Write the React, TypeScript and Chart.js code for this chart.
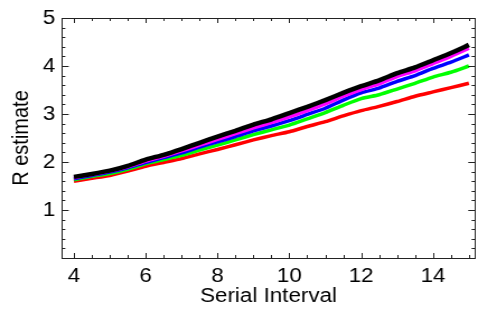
import React, { useEffect, useRef } from "react";
import { Chart, registerables } from "chart.js";

Chart.register(...registerables);

const serialInterval = [4, 4.5, 5, 5.5, 6, 6.5, 7, 7.5, 8, 8.5, 9, 9.5, 10, 10.5, 11, 11.5, 12, 12.5, 13, 13.5, 14, 14.5, 15];
const blackSeries = [1.69, 1.75, 1.82, 1.92, 2.05, 2.15, 2.27, 2.4, 2.53, 2.65, 2.78, 2.89, 3.02, 3.15, 3.29, 3.44, 3.58, 3.7, 3.85, 3.97, 4.12, 4.27, 4.44];
const magentaSeries = [1.67, 1.74, 1.81, 1.9, 2.02, 2.12, 2.23, 2.35, 2.47, 2.59, 2.71, 2.82, 2.94, 3.07, 3.21, 3.37, 3.51, 3.63, 3.78, 3.9, 4.05, 4.2, 4.37];
const blueSeries = [1.65, 1.72, 1.79, 1.88, 1.99, 2.09, 2.19, 2.31, 2.42, 2.53, 2.65, 2.75, 2.86, 2.99, 3.12, 3.29, 3.44, 3.54, 3.68, 3.8, 3.95, 4.08, 4.23];
const greenSeries = [1.63, 1.7, 1.76, 1.85, 1.96, 2.05, 2.14, 2.25, 2.35, 2.46, 2.57, 2.67, 2.77, 2.9, 3.03, 3.18, 3.32, 3.4, 3.52, 3.64, 3.77, 3.87, 4.0];
const redSeries = [1.6, 1.66, 1.72, 1.81, 1.91, 1.99, 2.07, 2.17, 2.26, 2.36, 2.46, 2.55, 2.63, 2.74, 2.84, 2.96, 3.07, 3.16, 3.26, 3.37, 3.46, 3.55, 3.64];

const xTickValues = [4, 6, 8, 10, 12, 14];
const yTickValues = [1, 2, 3, 4, 5];
const xMinorStep = 0.5;
const yMinorStep = 0.2;

const FONT = "'Liberation Sans', Arial, sans-serif";
const PAGE_W = 478;
const PAGE_H = 320;
const LOGICAL_W = 427;
const STRETCH = PAGE_W / LOGICAL_W;

const frameTicksPlugin = {
  id: "frameTicks",
  afterDraw(chart: any) {
    const { ctx, chartArea: a, scales } = chart;
    const xs = scales.x;
    const ys = scales.y;
    ctx.save();
    ctx.strokeStyle = "#222";
    ctx.lineWidth = 1;
    ctx.strokeRect(Math.round(a.left) + 0.5, Math.round(a.top) + 0.5, Math.round(a.right - a.left), Math.round(a.bottom - a.top));
    ctx.beginPath();
    for (let v = 4; v <= 15.001; v += xMinorStep) {
      const major = Math.abs(v / 2 - Math.round(v / 2)) < 1e-6;
      const len = major ? 5 : 3;
      const px = Math.round(xs.getPixelForValue(v)) + 0.5;
      ctx.moveTo(px, a.bottom);
      ctx.lineTo(px, a.bottom - len);
      ctx.moveTo(px, a.top);
      ctx.lineTo(px, a.top + len);
    }
    for (let i = 1; i < 25; i++) {
      const v = i * yMinorStep;
      const major = i % 5 === 0;
      const len = major ? 6 : 3;
      const py = Math.round(ys.getPixelForValue(v)) + 0.5;
      ctx.moveTo(a.left, py);
      ctx.lineTo(a.left + len, py);
      ctx.moveTo(a.right, py);
      ctx.lineTo(a.right - len, py);
    }
    ctx.stroke();
    ctx.restore();
  },
};

export default function App() {
  const canvasRef = useRef<HTMLCanvasElement | null>(null);

  useEffect(() => {
    if (!canvasRef.current) return;
    const mk = (data: number[], color: string, width: number) => ({
      data: serialInterval.map((x, i) => ({ x, y: data[i] })),
      borderColor: color,
      backgroundColor: color,
      borderWidth: width,
      pointRadius: 0,
      tension: 0.2,
      fill: false,
    });
    const chart = new Chart(canvasRef.current, {
      type: "line",
      data: {
        datasets: [
          mk(blackSeries, "#000000", 4.5),
          mk(magentaSeries, "#ff00ff", 3.5),
          mk(blueSeries, "#0000ff", 3.5),
          mk(greenSeries, "#00ff00", 3.5),
          mk(redSeries, "#ff0000", 3.5),
        ],
      },
      options: {
        responsive: false,
        animation: false,
        layout: { padding: { top: 18, right: 2.7, left: 0, bottom: 0 } },
        plugins: { legend: { display: false }, tooltip: { enabled: false } },
        scales: {
          x: {
            type: "linear",
            min: 3.67,
            max: 15.17,
            grid: { display: false, drawTicks: false },
            border: { display: false },
            afterBuildTicks: (s: any) => {
              s.ticks = xTickValues.map((v) => ({ value: v }));
            },
            afterFit: (s: any) => {
              s.height = 62;
            },
            ticks: {
              font: { family: FONT, size: 20 },
              color: "#000",
              padding: 6,
              maxRotation: 0,
              autoSkip: false,
              callback: (v: any) => String(v),
            },
            title: {
              display: true,
              text: "Serial Interval",
              font: { family: FONT, size: 20 },
              color: "#000",
              padding: { top: 0, bottom: 12 },
            },
          },
          y: {
            type: "linear",
            min: 0,
            max: 5,
            grid: { display: false, drawTicks: false },
            border: { display: false },
            afterBuildTicks: (s: any) => {
              s.ticks = yTickValues.map((v) => ({ value: v }));
            },
            afterFit: (s: any) => {
              s.width = 55.4;
            },
            ticks: {
              font: { family: FONT, size: 20 },
              color: "#000",
              padding: 6,
              autoSkip: false,
              callback: (v: any) => String(v),
            },
            title: {
              display: true,
              text: "R estimate",
              font: { family: FONT, size: 20 },
              color: "#000",
              padding: { top: 7, bottom: 0 },
            },
          },
        },
      },
      plugins: [frameTicksPlugin],
    });
    return () => chart.destroy();
  }, []);

  return (
    <div style={{ position: "absolute", left: 0, top: 0, width: PAGE_W, height: PAGE_H, background: "#fff", overflow: "hidden" }}>
      <canvas
        ref={canvasRef}
        width={LOGICAL_W}
        height={PAGE_H}
        style={{ width: LOGICAL_W, height: PAGE_H, transform: `scaleX(${STRETCH})`, transformOrigin: "0 0", display: "block" }}
      />
    </div>
  );
}
